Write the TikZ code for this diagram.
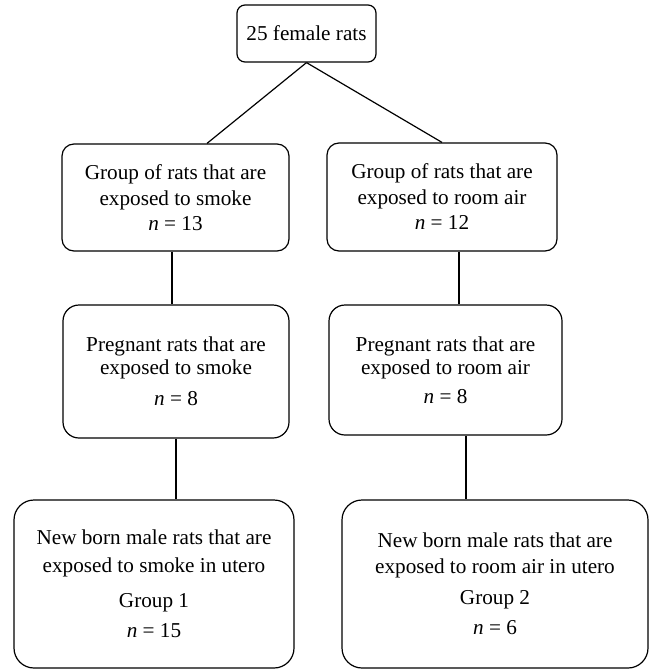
\documentclass[tikz,border=0pt]{standalone}
\usepackage{fontspec}
\setmainfont{Liberation Serif}
\usepackage{tikz}
\tikzset{
    box/.style={draw=black, line width=0.6pt, rounded corners=#1, align=center, inner sep=0pt,
        font=\fontsize{10.6}{12}\selectfont},
    box/.default=4pt,
    link/.style={line width=0.6pt}
}

\begin{document}
\begin{tikzpicture}[x=0.5pt, y=-0.5pt]

                \useasboundingbox (0,0) rectangle (649,669);

                \node[box, minimum width=69.5pt, minimum height=28.5pt] (rats) at (306.5,33.5) {25 female rats};

                \node[box=6pt, minimum width=113.5pt, minimum height=53.5pt] (G1) at (175.5,197.5) {Group of rats that are\\[1pt] exposed to smoke\\[0.5pt] \textit{n} = 13};
                \node[box=6pt, minimum width=115pt, minimum height=54pt] (G2) at (442,197) {Group of rats that are\\[1pt] exposed to room air\\[0.5pt] \textit{n} = 12};

                \node[box=8pt, minimum width=113pt, minimum height=66.5pt] (P1) at (176,371.5) {Pregnant rats that are\\[-0.5pt] exposed to smoke\\[3.5pt] \textit{n} = 8};
                \node[box=8pt, minimum width=116.5pt, minimum height=65pt] (P2) at (445.5,370) {Pregnant rats that are\\[-0.5pt] exposed to room air\\[2.5pt] \textit{n} = 8};

                \node[box=10pt, minimum width=140pt, minimum height=84pt] (B1) at (154,584) {New born male rats that are\\[2pt] exposed to smoke in utero\\[5.5pt] Group 1\\[3pt] \textit{n} = 15};
                \node[box=10pt, minimum width=153pt, minimum height=84pt] (B2) at (495,584) {New born male rats that are\\[1pt] exposed to room air in utero\\[3.5pt] Group 2\\[3pt] \textit{n} = 6};

                \draw[link] (rats.south) -- ([xshift=15.75pt]G1.north);
                \draw[link] (rats.south) -- (G2.north);
                \draw[link] ([xshift=-1.75pt]G1.south) -- ([xshift=-1.75pt]G1.south |- P1.north);
                \draw[link] ([xshift=8.5pt]G2.south) -- ([xshift=8.5pt]G2.south |- P2.north);
                \draw[link] (P1.south) -- (P1.south |- B1.north);
                \draw[link] ([xshift=10.25pt]P2.south) -- ([xshift=10.25pt]P2.south |- B2.north);

            \end{tikzpicture}
\end{document}
